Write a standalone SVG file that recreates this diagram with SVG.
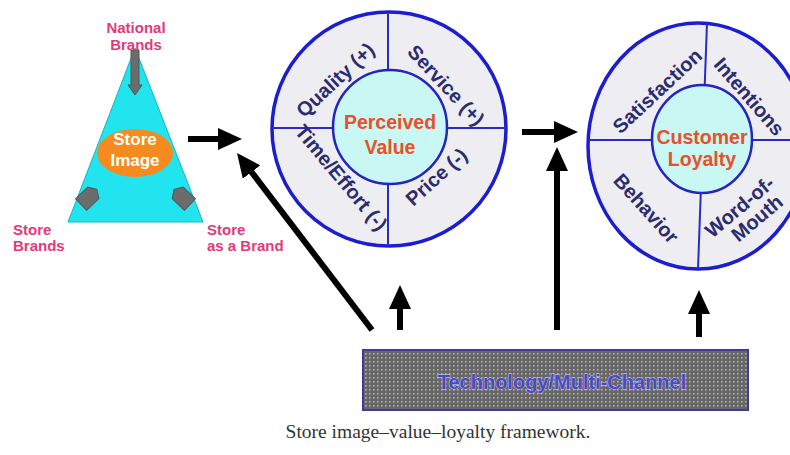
<svg xmlns="http://www.w3.org/2000/svg" width="790" height="455" viewBox="0 0 790 455">
<style>
.pink{font-family:"Liberation Sans",Arial,sans-serif;font-weight:bold;font-size:15px;fill:#e23a78}
.seg{font-family:"Liberation Sans",Arial,sans-serif;font-weight:bold;font-size:20px;fill:#2b2b6e;text-anchor:middle}
.core{font-family:"Liberation Sans",Arial,sans-serif;font-weight:bold;font-size:19.5px;fill:#e8502a;text-anchor:middle}
.ring{fill:#ededf2;stroke:#1c1cd0;stroke-width:3.5}
.inner{fill:#c9f7f3;stroke:#2424c0;stroke-width:2.5}
.div{stroke:#2a2ac4;stroke-width:2;fill:none}
.blk{stroke:#000;stroke-width:6;fill:none;marker-end:url(#ah)}
.garrow{fill:#6c6c6c;stroke:#4a5a5a;stroke-width:1}
</style>
<defs>
<marker id="ah" markerUnits="userSpaceOnUse" markerWidth="24" markerHeight="22" refX="10" refY="11" orient="auto">
<path d="M0,0 L24,11 L0,22 z" fill="#000"/>
</marker>
<pattern id="dots" width="4" height="4" patternUnits="userSpaceOnUse">
<rect width="4" height="4" fill="#676767"/>
<rect x="1" y="1" width="1.6" height="1.6" fill="#b4b4b4"/>
</pattern>
</defs>
<rect width="790" height="455" fill="#fff"/>

<g id="store-image">
<polygon points="135,48 68,222 203,222" fill="#22e4ee" stroke="#12b6c6" stroke-width="1"/>
<polygon class="garrow" points="131,50 139,50 139,85 142,85 135,95 128,85 131,85"/>
<g transform="translate(89,197) rotate(-44)"><polygon class="garrow" points="-11,-8 6,-8 11,0 6,8 -11,8"/></g>
<g transform="translate(182,197) rotate(-136)"><polygon class="garrow" points="-11,-8 6,-8 11,0 6,8 -11,8"/></g>
<ellipse cx="135" cy="153" rx="38" ry="24" fill="#f58a1e"/>
<text x="135" y="145" font-family="Liberation Sans,Arial,sans-serif" font-weight="bold" font-size="17" fill="#fff" text-anchor="middle">Store</text>
<text x="135" y="166" font-family="Liberation Sans,Arial,sans-serif" font-weight="bold" font-size="17" fill="#fff" text-anchor="middle">Image</text>
<text class="pink" x="136" y="33" text-anchor="middle">National</text>
<text class="pink" x="136" y="50" text-anchor="middle">Brands</text>
<text class="pink" x="13" y="235">Store</text>
<text class="pink" x="13" y="251">Brands</text>
<text class="pink" x="207" y="235">Store</text>
<text class="pink" x="207" y="251">as a Brand</text>
</g>

<g id="perceived-value">
<circle class="ring" cx="389" cy="129" r="117"/>
<line class="div" x1="272" y1="128" x2="506" y2="128"/>
<line class="div" x1="388" y1="12" x2="388" y2="246"/>
<circle class="inner" cx="390" cy="127" r="57"/>
<text class="core" x="390" y="129">Perceived</text>
<text class="core" x="390" y="154">Value</text>
<text class="seg" transform="translate(340,85) rotate(-43)">Quality (+)</text>
<text class="seg" transform="translate(441,90) rotate(47)">Service (+)</text>
<text class="seg" transform="translate(441,182) rotate(-42)">Price (-)</text>
<text class="seg" transform="translate(336,182) rotate(50)">Time/Effort (-)</text>
</g>

<g id="customer-loyalty">
<ellipse class="ring" cx="698" cy="146" rx="110" ry="123"/>
<line class="div" x1="589" y1="140" x2="807" y2="140"/>
<line class="div" x1="707" y1="23" x2="698" y2="269"/>
<ellipse class="inner" cx="702" cy="139" rx="50" ry="54"/>
<text class="core" x="702" y="144">Customer</text>
<text class="core" x="702" y="166">Loyalty</text>
<text class="seg" transform="translate(662,96) rotate(-43)">Satisfaction</text>
<text class="seg" transform="translate(744,101) rotate(49)">Intentions</text>
<text class="seg" transform="translate(641,213) rotate(48)">Behavior</text>
<g transform="translate(744,212) rotate(-40)">
<text class="seg">Word-of-</text>
<text class="seg" x="6" y="20">Mouth</text>
</g>
</g>

<g id="technology">
<rect x="363" y="350" width="385" height="60" fill="url(#dots)" stroke="#3c3c9c" stroke-width="2"/>
<text x="562" y="389" font-family="Liberation Sans,Arial,sans-serif" font-weight="bold" font-size="20" fill="#4a4ac8" stroke="#d4d4f2" stroke-width="0.8" paint-order="stroke" text-anchor="middle">Technology/Multi-Channel</text>
</g>

<g id="connectors">
<line class="blk" x1="188" y1="139" x2="228" y2="139"/>
<line class="blk" x1="372" y1="330" x2="245.5" y2="164.1"/>
<line class="blk" x1="400" y1="330" x2="400" y2="299"/>
<line class="blk" x1="522" y1="132" x2="564" y2="132"/>
<line class="blk" x1="557" y1="330" x2="557" y2="161"/>
<line class="blk" x1="699" y1="337" x2="699" y2="304"/>
</g>

<text x="438" y="438" font-family="Liberation Serif,Times New Roman,serif" font-size="19.5" fill="#333" text-anchor="middle">Store image–value–loyalty framework.</text>
</svg>
